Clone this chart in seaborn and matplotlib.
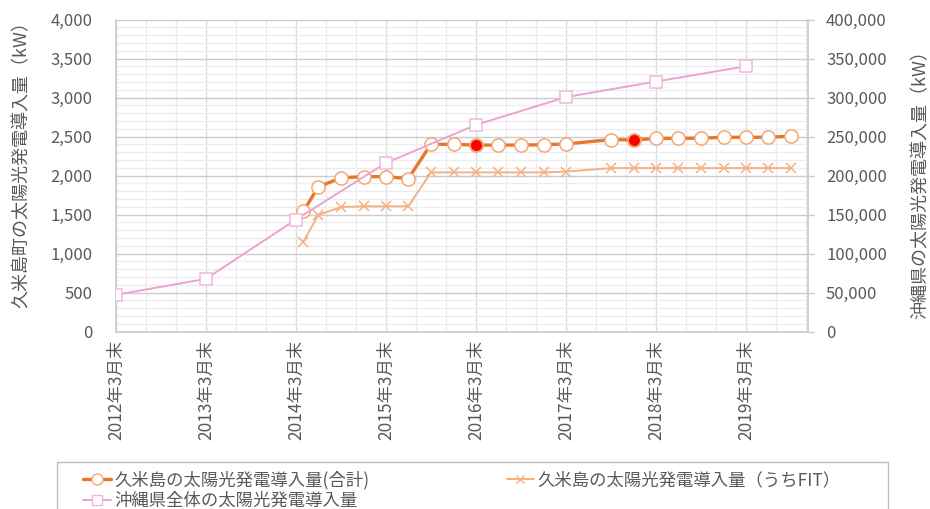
import matplotlib
matplotlib.use('Agg')
import matplotlib.pyplot as plt
from matplotlib.lines import Line2D
from matplotlib.patches import Rectangle
from matplotlib.ticker import MultipleLocator, FuncFormatter
import seaborn as sns
import pandas as pd

sns.set_theme(style='white')
plt.rcParams['font.family'] = ['Noto Sans CJK JP', 'DejaVu Sans']

# ---------------- data ----------------
okinawa_dates = ['2012-03-31', '2013-03-31', '2014-03-31', '2015-03-31',
                 '2016-03-31', '2017-03-31', '2018-03-31', '2019-03-31']
okinawa_kw = [47000, 67500, 143500, 216000, 265000, 300500, 320500, 340000]

kume_dates = ['2014-04-30', '2014-06-30', '2014-09-30', '2014-12-31',
              '2015-03-31', '2015-06-30', '2015-09-30', '2015-12-31',
              '2016-03-31', '2016-06-30', '2016-09-30', '2016-12-31',
              '2017-03-31', '2017-09-30', '2017-12-31', '2018-03-31',
              '2018-06-30', '2018-09-30', '2018-12-31', '2019-03-31',
              '2019-06-30', '2019-09-30']
kume_total_kw = [1540, 1855, 1970, 1985, 1985, 1960, 2400, 2400,
                 2390, 2390, 2390, 2395, 2405, 2460, 2455, 2475,
                 2478, 2478, 2490, 2490, 2490, 2505]
kume_fit_kw = [1150, 1495, 1595, 1605, 1605, 1605, 2040, 2040,
               2040, 2040, 2040, 2040, 2050, 2095, 2095, 2095,
               2095, 2095, 2095, 2095, 2095, 2095]
highlight_dates = ['2016-03-31', '2017-12-31']

year_ticks = ['2012-03-31', '2013-03-31', '2014-03-31', '2015-03-31',
              '2016-03-31', '2017-03-31', '2018-03-31', '2019-03-31']
year_tick_labels = ['2012年3月末', '2013年3月末', '2014年3月末', '2015年3月末',
                    '2016年3月末', '2017年3月末', '2018年3月末', '2019年3月末']
left_ticks = [0, 500, 1000, 1500, 2000, 2500, 3000, 3500, 4000]
right_ticks = [0, 50000, 100000, 150000, 200000, 250000, 300000, 350000, 400000]

label_total = '久米島の太陽光発電導入量(合計)'
label_fit = '久米島の太陽光発電導入量（うちFIT）'
label_okinawa = '沖縄県全体の太陽光発電導入量'
left_title = '久米島町の太陽光発電導入量（kW）'
right_title = '沖縄県の太陽光発電導入量（kW）'

# ---------------- style ----------------
c_total = '#E8772E'
c_total_edge = '#F2A872'
c_fit = '#F4B183'
c_pink = '#EAA3D2'
c_pink_edge = '#F2B8DC'
c_text = '#595959'
c_grid_major = '#cccccc'
c_grid_vmajor = '#dcdcdc'
c_grid_minor = '#ececec'

okinawa_df = pd.DataFrame({'date': pd.to_datetime(okinawa_dates), 'kw': okinawa_kw})
kume_df = pd.DataFrame({'date': pd.to_datetime(kume_dates),
                        'total': kume_total_kw, 'fit': kume_fit_kw})
hl_df = kume_df[kume_df['date'].isin(pd.to_datetime(highlight_dates))]

W, H = 930, 509
fig = plt.figure(figsize=(W / 100, H / 100), dpi=100)
L, R, T, B = 116, 808, 19.5, 331.5
ax = fig.add_axes([L / W, 1 - B / H, (R - L) / W, (B - T) / H])
ax2 = ax.twinx()

# grid on primary axis
ax.set_ylim(0, 4000)
ax.set_yticks(left_ticks)
ax.yaxis.set_minor_locator(MultipleLocator(100))
ax.yaxis.set_major_formatter(FuncFormatter(lambda v, p: f'{int(v):,}'))
ax.set_xlim(pd.Timestamp('2012-03-31'), pd.Timestamp('2019-12-08'))
ax.set_xticks(pd.to_datetime(year_ticks))
ax.set_xticklabels(year_tick_labels, rotation=90, va='top', ha='center')
ax.set_xticks(pd.date_range('2012-03-31', '2019-12-08', freq='4ME'), minor=True)
ax.grid(which='major', axis='y', color=c_grid_major, lw=1.0)
ax.grid(which='major', axis='x', color=c_grid_vmajor, lw=1.0)
ax.grid(which='minor', color=c_grid_minor, lw=0.9)
ax.set_axisbelow(True)

# series on primary axis
sns.lineplot(data=kume_df, x='date', y='fit', ax=ax, color=c_fit, lw=1.4,
             marker='x', markersize=6.5, markeredgewidth=1.1,
             markeredgecolor=c_fit, zorder=3)
sns.lineplot(data=kume_df, x='date', y='total', ax=ax, color=c_total, lw=2.4,
             marker='o', markersize=9.5, markerfacecolor='white',
             markeredgecolor=c_total_edge, markeredgewidth=1.1, zorder=4)
sns.scatterplot(data=hl_df, x='date', y='total', ax=ax, color='#FF0000',
                s=80, edgecolor=c_total_edge, linewidth=1.0, zorder=5)

# secondary axis
ax2.set_ylim(0, 400000)
ax2.set_yticks(right_ticks)
ax2.yaxis.set_major_formatter(FuncFormatter(lambda v, p: f'{int(v):,}'))
sns.lineplot(data=okinawa_df, x='date', y='kw', ax=ax2, color=c_pink, lw=1.4,
             marker='s', markersize=8.5, markerfacecolor='white',
             markeredgecolor=c_pink_edge, markeredgewidth=1.1, zorder=3)
ax2.grid(False)
ax2.patch.set_visible(False)

for a in (ax, ax2):
    a.set_xlabel('')
    a.set_ylabel('')
    for s in a.spines.values():
        s.set_visible(False)
ax.spines['left'].set_visible(True)
ax.spines['left'].set_color(c_grid_major)
ax.spines['bottom'].set_visible(True)
ax.spines['bottom'].set_color(c_grid_major)
ax2.spines['right'].set_visible(True)
ax2.spines['right'].set_color(c_grid_major)

ax.tick_params(axis='y', which='both', length=0, pad=17, labelsize=12, labelcolor=c_text)
ax.tick_params(axis='x', which='both', length=0, pad=6, labelsize=12.5, labelcolor=c_text)
ax2.tick_params(axis='y', which='major', length=4, width=1, color=c_grid_major,
                direction='out', pad=9, labelsize=12, labelcolor=c_text)
ax2.tick_params(axis='y', which='minor', length=0)

# axis titles
fig.text(22 / W, 1 - 160 / H, left_title, rotation=90, ha='center', va='center',
         fontsize=13, color=c_text)
fig.text(921 / W, 1 - 180 / H, right_title, rotation=90, ha='center', va='center',
         fontsize=13, color=c_text)

# legend
h_total = Line2D([], [], color=c_total, lw=2.4, marker='o', markersize=8,
                 markerfacecolor='white', markeredgecolor=c_total_edge)
h_fit = Line2D([], [], color=c_fit, lw=1.4, marker='x', markersize=6,
               markeredgecolor=c_fit)
h_ok = Line2D([], [], color=c_pink, lw=1.4, marker='s', markersize=7,
              markerfacecolor='white', markeredgecolor=c_pink_edge)
fig.legend([h_total, h_ok, h_fit], [label_total, label_okinawa, label_fit],
           loc='upper left', bbox_to_anchor=(83 / W, 1 - 471 / H), ncol=2,
           frameon=False, fontsize=12.5, labelcolor=c_text,
           handlelength=1.6, handletextpad=0.2, columnspacing=7.9,
           labelspacing=0.15, borderpad=0, borderaxespad=0)
fig.add_artist(Rectangle((57 / W, -0.05), (888 - 57) / W, (1 - 462 / H) + 0.05,
                         transform=fig.transFigure, fill=False,
                         edgecolor='#bfbfbf', lw=1))

fig.savefig('out.png', dpi=100)
